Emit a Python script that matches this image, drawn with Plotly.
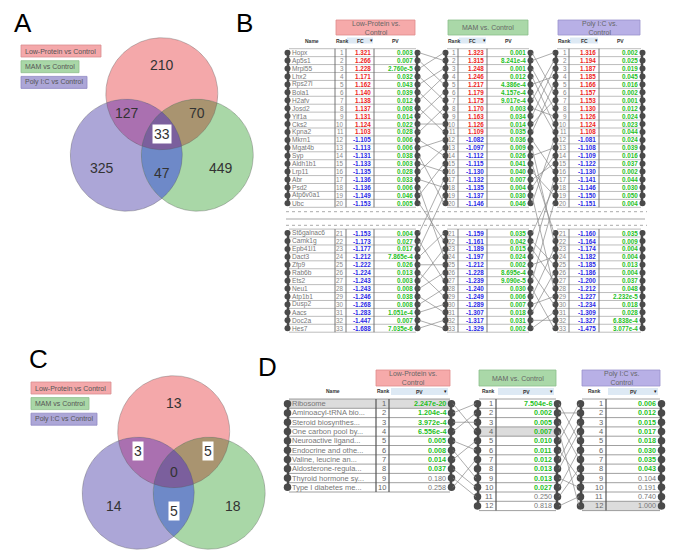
import numpy as np
import plotly.graph_objects as go

FONT = "Liberation Sans, Arial, sans-serif"

# ---------------- data ----------------
comparisons = ["Low-Protein vs Control", "MAM vs Control", "Poly I:C vs Control"]
table_titles = ["Low-Protein vs.<br>Control", "MAM vs. Control", "Poly I:C vs.<br>Control"]

venn_regions = ["LP", "MAM", "PIC", "LP&PIC", "LP&MAM", "MAM&PIC", "ALL"]
venn_a_counts = [210, 449, 325, 127, 70, 47, 33]
venn_c_counts = [13, 18, 14, 3, 5, 5, 0]
venn_a_boxed = [False, False, False, False, False, False, True]
venn_c_boxed = [False, False, False, True, True, True, False]

genes = ["Hopx", "Ap5s1", "Mrpl55", "Lhx2", "Rps27l", "Bola1", "H2afv", "Josd2", "Yif1a",
         "Cks2", "Kpna2", "Mkrn1", "Mgat4b", "Syp", "Aldh1b1", "Lrp11", "Abr", "Psd2",
         "Atp6v0a1", "Ubc", "St6galnac6", "Camk1g", "Epb41l1", "Dact3", "Zfp9", "Rab6b",
         "Ets2", "Neu1", "Atp1b1", "Dusp2", "Aacs", "Doc2a", "Hes7"]
lp_fc = [1.321, 1.266, 1.228, 1.171, 1.162, 1.140, 1.138, 1.137, 1.131, 1.124, 1.103,
         -1.105, -1.113, -1.131, -1.133, -1.135, -1.136, -1.136, -1.149, -1.153,
         -1.153, -1.173, -1.177, -1.212, -1.222, -1.224, -1.243, -1.243, -1.246, -1.268,
         -1.283, -1.447, -1.688]
lp_pv = [0.003, 0.007, 2.760e-5, 0.032, 0.043, 0.039, 0.012, 0.008, 0.014, 0.022, 0.028,
         0.006, 0.006, 0.038, 0.003, 0.028, 0.033, 0.006, 0.046, 0.005,
         0.004, 0.027, 0.017, 7.865e-4, 0.026, 0.013, 0.003, 0.008, 0.038, 0.008,
         1.051e-4, 0.007, 7.035e-6]
mam_fc = [1.323, 1.315, 1.248, 1.246, 1.217, 1.179, 1.175, 1.170, 1.163, 1.126, 1.109,
          -1.082, -1.097, -1.112, -1.115, -1.130, -1.132, -1.135, -1.137, -1.146,
          -1.159, -1.161, -1.189, -1.197, -1.212, -1.228, -1.239, -1.240, -1.249, -1.289,
          -1.307, -1.317, -1.329]
mam_pv = [0.001, 8.241e-4, 0.001, 0.012, 4.386e-4, 4.157e-4, 9.017e-4, 0.003, 0.034, 0.014, 0.035,
          0.036, 0.009, 0.026, 0.041, 0.040, 0.007, 0.004, 0.030, 0.046,
          0.035, 0.042, 0.015, 0.024, 0.002, 8.695e-4, 9.090e-5, 0.030, 0.006, 0.007,
          0.018, 0.031, 0.002]
pic_fc = [1.316, 1.194, 1.187, 1.185, 1.166, 1.157, 1.153, 1.130, 1.126, 1.124, 1.108,
          -1.081, -1.108, -1.109, -1.122, -1.130, -1.141, -1.146, -1.150, -1.151,
          -1.160, -1.164, -1.174, -1.182, -1.185, -1.186, -1.200, -1.212, -1.227, -1.234,
          -1.309, -1.327, -1.475]
pic_pv = [0.002, 0.025, 0.019, 0.045, 0.016, 0.002, 0.001, 0.012, 0.024, 0.023, 0.044,
          0.024, 0.039, 0.016, 0.037, 0.002, 0.044, 0.030, 0.050, 0.004,
          0.035, 0.009, 0.004, 0.004, 0.013, 0.004, 0.037, 0.048, 2.232e-5, 0.018,
          0.028, 6.838e-4, 3.077e-4]
# rank of each gene (LP order) in the MAM and Poly I:C lists
gene_mam_rank = [2, 5, 1, 7, 3, 9, 4, 11, 6, 10, 8,
                 14, 12, 20, 16, 13, 18, 24, 15, 22, 17, 27, 19, 21, 25, 29, 23, 26, 31, 28, 30, 33, 32]
gene_pic_rank = [1, 4, 6, 2, 8, 3, 10, 5, 11, 7, 9,
                 13, 16, 12, 19, 22, 14, 17, 21, 25, 15, 20, 28, 18, 24, 23, 27, 30, 26, 33, 29, 31, 32]

pathways = ["Ribosome", "Aminoacyl-tRNA bio...", "Steroid biosynthes...", "One carbon pool by...",
            "Neuroactive ligand...", "Endocrine and othe...", "Valine, leucine an...",
            "Aldosterone-regula...", "Thyroid hormone sy...", "Type I diabetes me..."]
path_lp_pv = [2.247e-20, 1.204e-4, 3.972e-4, 6.556e-4, 0.005, 0.008, 0.014, 0.037, 0.180, 0.258]
path_mam_pv = [7.504e-6, 0.002, 0.005, 0.007, 0.010, 0.011, 0.012, 0.013, 0.013, 0.027, 0.250, 0.818]
path_pic_pv = [0.006, 0.012, 0.015, 0.017, 0.018, 0.030, 0.035, 0.043, 0.104, 0.191, 0.740, 1.000]
path_lp_to_mam = [4, 1, 3, 2, 6, 9, 5, 10, 11, 7]
path_mam_to_pic = [5, 2, 7, 12, 1, 9, 3, 4, 10, 6, 8, 11]
highlight_pathway = "Ribosome"

# ---------------- styling ----------------
C_LP, C_MAM, C_PIC = "#f4a8aa", "#a9d7a7", "#aca6d7"
C_LP_PIC, C_LP_MAM, C_MAM_PIC, C_ALL = "#aa70b0", "#a99470", "#6e89c8", "#7b5f9d"
HDR = [("#f6aaaa", "#e08c8c"), ("#aad8a8", "#8cbf8a"), ("#b8b0e6", "#9a92cc")]
RED, BLUE, GREEN = "#ee1c1c", "#2a2ae6", "#1fbf1f"

traces, shapes, ann = [], [], []


def fmt_p(v):
    if v < 0.001:
        m, e = f"{v:.3e}".split("e")
        return f"{m}e-{int(e[1:])}"
    return f"{v:.3f}"


def label(x, y, text, size, color="#333", xanchor="center", bold=False, bg=None):
    ann.append(dict(x=x, y=y, text=f"<b>{text}</b>" if bold else text, showarrow=False,
                    xanchor=xanchor, yanchor="middle",
                    font=dict(family=FONT, size=size, color=color),
                    bgcolor=bg, borderpad=1 if bg else 0))


def add_text(xs, ys, texts, colors, size, pos, bold=False):
    anchor = "left" if pos == "middle right" else "right"
    if isinstance(colors, str):
        colors = [colors] * len(texts)
    for x, y, t, c in zip(xs, ys, texts, colors):
        label(x, y, t, size, c, xanchor=anchor, bold=bold)


def add_lines(xs, ys, color, width, dash=None):
    traces.append(go.Scatter(x=xs, y=ys, mode="lines",
                             line=dict(color=color, width=width, dash=dash),
                             hoverinfo="skip", showlegend=False))


def rect(x0, y0, x1, y1, fill, line="rgba(0,0,0,0)", lw=0.8):
    shapes.append(dict(type="rect", x0=x0, y0=y0, x1=x1, y1=y1, fillcolor=fill,
                       line=dict(color=line, width=lw), layer="below"))


# ---------------- Venn diagrams ----------------
def region_poly(circles, idx):
    pts = []
    th = np.linspace(0, 2 * np.pi, 721)
    for i in idx:
        cx, cy, r = circles[i]
        x = cx + r * np.cos(th)
        y = cy + r * np.sin(th)
        mask = np.ones_like(x, bool)
        for j in idx:
            if j != i:
                cj = circles[j]
                mask &= (x - cj[0]) ** 2 + (y - cj[1]) ** 2 <= cj[2] ** 2 + 1e-6
        pts.append(np.c_[x[mask], y[mask]])
    P = np.vstack(pts)
    c = P.mean(0)
    o = np.argsort(np.arctan2(P[:, 1] - c[1], P[:, 0] - c[0]))
    P = P[o]
    return list(P[:, 0]) + [P[0, 0]], list(P[:, 1]) + [P[0, 1]]


def venn(cx, cy, r, d, counts, boxed, legend_x, legend_y0, legend_dy):
    h = d * np.sqrt(3) / 2
    circles = [(cx, cy - 2 * h / 3, r), (cx + d / 2, cy + h / 3, r), (cx - d / 2, cy + h / 3, r)]
    regions = [([0], C_LP), ([2], C_PIC), ([1], C_MAM), ([0, 2], C_LP_PIC),
               ([0, 1], C_LP_MAM), ([1, 2], C_MAM_PIC), ([0, 1, 2], C_ALL)]
    for idx, col in regions:
        x, y = region_poly(circles, idx)
        traces.append(go.Scatter(x=x, y=y, mode="lines", fill="toself", fillcolor=col,
                                 line=dict(width=0), hoverinfo="skip", showlegend=False))
    th = np.linspace(0, 2 * np.pi, 361)
    for (ccx, ccy, rr) in circles:
        add_lines(list(ccx + rr * np.cos(th)), list(ccy + rr * np.sin(th)), "rgba(90,90,90,0.45)", 0.8)
    offsets = [(0, -1.25), (1.05, 0.59), (-1.07, 0.59), (-0.63, -0.39),
               (0.62, -0.39), (0, 0.68), (0, -0.02)]
    for k, n in enumerate(counts):
        ox, oy = offsets[k]
        label(cx + ox * r, cy + oy * r, str(n), 14, "#333", bg="white" if boxed[k] else None)
    widths = [80, 58, 66]
    for k, (name, col) in enumerate(zip(comparisons, [C_LP, C_MAM, C_PIC])):
        y0 = legend_y0 + k * legend_dy
        edge = ["#d98e90", "#8fbf8d", "#9089c4"][k]
        rect(legend_x, y0, legend_x + widths[k], y0 + 12, col, edge, 0.8)
        label(legend_x + 3, y0 + 6, name, 7, "#555", xanchor="left")


venn(161.8, 134.7, 56, 71, venn_a_counts, venn_a_boxed, 21, 45, 15.7)
venn(173.7, 472.7, 56, 71, venn_c_counts, venn_c_boxed, 31, 382, 15.6)

# ---------------- Panel B: gene tables ----------------
ROW_B = 7.93
TOP_B, BOT_B = 48.7, 229.1


def yB(rank):
    return TOP_B + (rank - 0.5) * ROW_B if rank <= 20 else BOT_B + (rank - 20.5) * ROW_B


tables_b = [
    dict(cols=[289, 335, 346, 374, 416], fc=lp_fc, pv=lp_pv, names=genes),
    dict(cols=[447, 458, 487, 529], fc=mam_fc, pv=mam_pv, names=None),
    dict(cols=[557, 569, 599, 641], fc=pic_fc, pv=pic_pv, names=None),
]
ranks = list(range(1, len(genes) + 1))
ys = [yB(k) for k in ranks]
for t_i, t in enumerate(tables_b):
    cols = t["cols"]
    L, R = cols[0], cols[-1]
    hx, hy = [], []
    for y0, nrow in [(TOP_B, 20), (BOT_B, 13)]:
        for k in range(nrow + 1):
            yy = y0 + k * ROW_B
            hx += [L, R, None]
            hy += [yy, yy, None]
    add_lines(hx, hy, "#a0a0a0", 0.7)
    vx, vy = [], []
    for y0, nrow in [(TOP_B, 20), (BOT_B, 13)]:
        for c in cols[1:-1]:
            vx += [c, c, None]
            vy += [y0, y0 + nrow * ROW_B, None]
    add_lines(vx, vy, "#666", 0.9)
    ex, ey = [], []
    for y0, nrow in [(TOP_B, 20), (BOT_B, 13)]:
        for c in [L - 1, R + 1]:
            ex += [c, c, None]
            ey += [y0 + 1.5, y0 + nrow * ROW_B - 1.5, None]
    add_lines(ex, ey, "#4a4a4a", 2.5)
    traces.append(go.Scatter(x=[L - 1.5] * len(ys) + [R + 1.5] * len(ys), y=ys + ys, mode="markers",
                             marker=dict(size=6, color="#4a4a4a"), hoverinfo="skip", showlegend=False))
    ri = 1 if t["names"] else 0
    if t["names"]:
        add_text([L + 2] * len(ys), ys, t["names"], "#777", 6.6, "middle right")
    add_text([cols[ri + 1] - 1] * len(ys), ys, [str(k) for k in ranks], "#888", 6.3, "middle left")
    add_text([cols[ri + 2] - 2] * len(ys), ys, [f"{v:.3f}" for v in t["fc"]],
             [RED if v > 0 else BLUE for v in t["fc"]], 6.3, "middle left", bold=True)
    add_text([cols[ri + 3] - 2] * len(ys), ys, [fmt_p(v) for v in t["pv"]], GREEN, 6.3, "middle left", bold=True)
    # column headers
    fc0, fc1 = cols[ri + 1], cols[ri + 2]
    if t["names"]:
        label((cols[0] + cols[1]) / 2, 40.5, "Name", 5, "#333", bold=True)
    label((cols[ri] + cols[ri + 1]) / 2 + 1, 40.5, "Rank", 5, "#333", bold=True)
    rect(fc0 + 1, 37.5, fc1 - 1, 43.5, "#dde9f4")
    label((fc0 + fc1) / 2, 40.5, "FC", 5, "#333", bold=True)
    label(fc1 - 2.5, 39.5, "▾", 5, "#111")
    label((cols[ri + 2] + cols[ri + 3]) / 2, 40.5, "PV", 5, "#333", bold=True)
    hx0, hx1 = cols[ri] + 1, R - 1
    rect(hx0, 20, hx1, 35, HDR[t_i][0], HDR[t_i][1], 0.8)
    label((hx0 + hx1) / 2, 27.5, table_titles[t_i], 7, "#666")

# separators between top/bottom blocks
add_lines([286, 647], [211.7, 211.7], "#aaa", 1, "dot")
add_lines([286, 645], [219, 219], "#c4c4c4", 1.6)
add_lines([286, 647], [225.3, 225.3], "#aaa", 1, "dot")

# connectors
cx_, cy_ = [], []
for g in range(len(genes)):
    m, p = gene_mam_rank[g], gene_pic_rank[g]
    cx_ += [419, 444, None, 532, 554, None]
    cy_ += [yB(g + 1), yB(m), None, yB(m), yB(p), None]
add_lines(cx_, cy_, "#8a8a8a", 0.7)

# ---------------- Panel D: pathway tables ----------------
ROW_D = 9.3
TOP_D = 399.0


def yD(rank):
    return TOP_D + (rank - 0.5) * ROW_D


hl_lp = pathways.index(highlight_pathway) + 1
hl_mam = path_lp_to_mam[hl_lp - 1]
hl_pic = path_mam_to_pic[hl_mam - 1]
tables_d = [
    dict(cols=[289, 376, 389, 450], pv=path_lp_pv, names=pathways, hl=hl_lp),
    dict(cols=[479, 496, 556], pv=path_mam_pv, names=None, hl=hl_mam),
    dict(cols=[582, 606, 660], pv=path_pic_pv, names=None, hl=hl_pic),
]
for t_i, t in enumerate(tables_d):
    cols = t["cols"]
    L, R = cols[0], cols[-1]
    n = len(t["pv"])
    rks = list(range(1, n + 1))
    yy = [yD(k) for k in rks]
    rect(L, yD(t["hl"]) - ROW_D / 2, R, yD(t["hl"]) + ROW_D / 2, "#dcdcdc")
    hx, hy = [], []
    for k in range(n + 1):
        y0 = TOP_D + k * ROW_D
        hx += [L, R, None]
        hy += [y0, y0, None]
    add_lines(hx, hy, "#888", 0.8)
    vx, vy = [], []
    for c in cols[1:-1]:
        vx += [c, c, None]
        vy += [TOP_D, TOP_D + n * ROW_D, None]
    add_lines(vx, vy, "#555", 1.2)
    add_lines([L - 1, L - 1, None, R + 1, R + 1], [TOP_D + 2, TOP_D + n * ROW_D - 2, None,
                                                   TOP_D + 2, TOP_D + n * ROW_D - 2], "#4a4a4a", 2.5)
    traces.append(go.Scatter(x=[L - 1.5] * n + [R + 1.5] * n, y=yy + yy, mode="markers",
                             marker=dict(size=7.5, color="#4a4a4a"), hoverinfo="skip", showlegend=False))
    ri = 1 if t["names"] else 0
    if t["names"]:
        add_text([L + 2] * n, yy, t["names"], "#777", 7.5, "middle right")
        label((cols[0] + cols[1]) / 2, 391, "Name", 5, "#333", bold=True)
    add_text([cols[ri + 1] - 2] * n, yy, [str(k) for k in rks], "#666", 7.5, "middle left")
    sig = [v < 0.05 for v in t["pv"]]
    add_text([cols[ri + 2] - 3] * n, yy,
             [f"<b>{fmt_p(v)}</b>" if s else fmt_p(v) for v, s in zip(t["pv"], sig)],
             [GREEN if s else "#777" for s in sig], 7.2, "middle left")
    label((cols[ri] + cols[ri + 1]) / 2, 391, "Rank", 5, "#333", bold=True)
    p0, p1 = cols[ri + 1] + 2, R - 2
    rect(p0, 388, p1, 395, "#dde9f4")
    label((p0 + p1) / 2, 391.5, "PV", 5, "#333", bold=True)
    label(p1 - 2.5, 390.5, "▾", 5, "#111")
    hx0, hx1 = cols[ri] - 1, R - 1
    rect(hx0 + 1, 370, hx1 + 1, 386, HDR[t_i][0], HDR[t_i][1], 0.8)
    label((hx0 + hx1) / 2 + 1, 378, table_titles[t_i], 7, "#666")

dx, dy = [], []
for i, m in enumerate(path_lp_to_mam):
    dx += [453, 476, None]
    dy += [yD(i + 1), yD(m), None]
for j, p in enumerate(path_mam_to_pic):
    dx += [559, 579, None]
    dy += [yD(j + 1), yD(p), None]
add_lines(dx, dy, "#8a8a8a", 0.7)

# ---------------- panel letters ----------------
for letter, x, y in [("A", 22.5, 22.5), ("B", 244, 22.5), ("C", 38, 359), ("D", 267.5, 366.5)]:
    label(x, y, letter, 26, "#000")

fig = go.Figure(traces)
fig.update_layout(
    width=676, height=558, margin=dict(l=0, r=0, t=0, b=0),
    paper_bgcolor="white", plot_bgcolor="white", showlegend=False,
    xaxis=dict(range=[0, 676], visible=False, fixedrange=True),
    yaxis=dict(range=[558, 0], visible=False, fixedrange=True),
    shapes=shapes, annotations=ann,
)
fig.write_html("out.html", config={"displayModeBar": False},
               post_script="document.body.style.margin='0';document.body.style.overflow='hidden';")
